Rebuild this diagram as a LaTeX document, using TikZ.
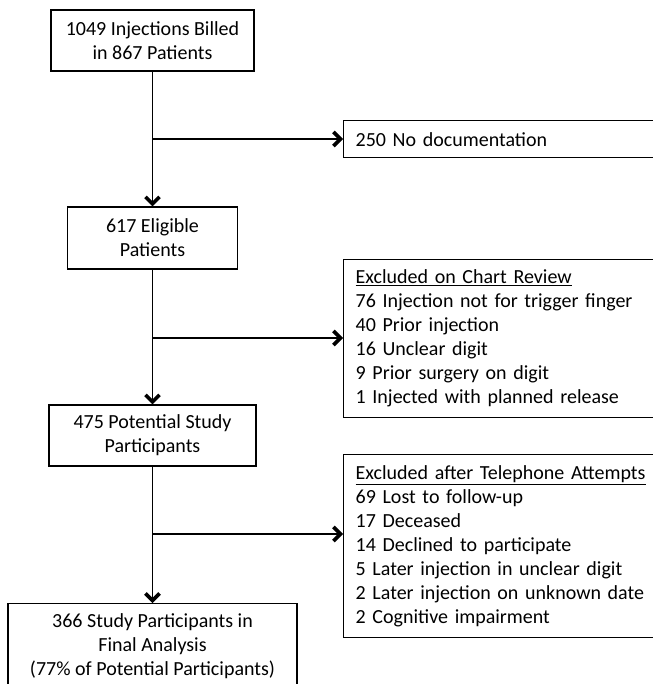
\documentclass[tikz,border=0pt]{standalone}
\usepackage{fontspec}
\setmainfont{Carlito}
\usetikzlibrary{arrows.meta}
\begin{document}
\begin{tikzpicture}[x=1pt,y=-1pt,
  txt/.style={font=\fontsize{20}{24}\selectfont},
  mainbox/.style={txt, draw, line width=1.3pt, align=center, inner sep=0pt},
  sidebox/.style={txt, draw, line width=1.3pt, align=left, anchor=north west,
    inner xsep=12pt, inner ysep=0pt, text width=330pt},
  conn/.style={line width=1.3pt},
  arr/.style={conn, -{Straight Barb[length=7pt,width=14pt,line width=3.6pt]}}]
\useasboundingbox (0,0) rectangle (652,684);

\node[mainbox, minimum width=203pt, minimum height=61pt] (b1) at (152.5,40.5)
  {1049 Injections Billed\\in 867 Patients};
\node[mainbox, minimum width=170pt, minimum height=62pt] (b2) at (152.5,238)
  {617 Eligible\\Patients};
\node[mainbox, minimum width=207pt, minimum height=61pt] (b3) at (152.5,435.5)
  {475 Potential Study\\Participants};
\node[mainbox, anchor=north, minimum width=289pt, inner ysep=10pt] (b4) at (152.5,603)
  {366 Study Participants in\\Final Analysis\\(77\% of Potential Participants)};

\node[sidebox, minimum height=37pt] (nodoc) at (343,120) {250 No documentation};
\node[sidebox, minimum height=158pt] (chart) at (343,259)
  {\underline{Excluded on Chart Review}\\
   76 Injection not for trigger finger\\
   40 Prior injection\\
   16 Unclear digit\\
   9 Prior surgery on digit\\
   1 Injected with planned release};
\node[sidebox, minimum height=183pt] (tel) at (343,454)
  {\underline{Excluded after Telephone Attempts}\\
   69 Lost to follow-up\\
   17 Deceased\\
   14 Declined to participate\\
   5 Later injection in unclear digit\\
   2 Later injection on unknown date\\
   2 Cognitive impairment};

\coordinate (j1) at (152.5,139);
\coordinate (j2) at (152.5,338);
\coordinate (j3) at (152.5,534);

\draw[arr] (b1.south) -- (b2.north);
\draw[arr] (b2.south) -- (b3.north);
\draw[arr] (b3.south) -- (b4.north);
\draw[arr] (j1) -- (j1 -| nodoc.west);
\draw[arr] (j2) -- (j2 -| chart.west);
\draw[arr] (j3) -- (j3 -| tel.west);
\end{tikzpicture}
\end{document}
